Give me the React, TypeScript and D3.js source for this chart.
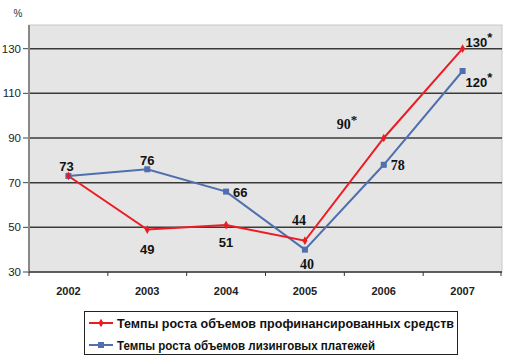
import React from 'react';
import * as d3 from 'd3';

const years = ['2002', '2003', '2004', '2005', '2006', '2007'];
const financed = [73, 49, 51, 44, 90, 130];
const leasing = [73, 76, 66, 40, 78, 120];
const yTicks = [30, 50, 70, 90, 110, 130];
const legendNames = [
  'Темпы роста объемов профинансированных средств',
  'Темпы роста объемов лизинговых платежей',
];
// label placement per point: [dx, dy, anchor, serif, star]
const financedLabels: [number, number, string, boolean, boolean][] = [
  [-2, -5, 'middle', false, false],
  [0, 24, 'middle', false, false],
  [0, 22, 'middle', false, false],
  [-6, -16, 'middle', true, false],
  [-47, -9, 'start', true, true],
  [3, -2, 'start', false, true],
];
const leasingLabels: [number, number, string, boolean, boolean][] = [
  [99, 99, 'none', false, false],
  [0, -4, 'middle', false, false],
  [7, 5, 'start', false, false],
  [2, 19, 'middle', true, false],
  [7, 5, 'start', true, false],
  [3, 16, 'start', false, true],
];

const RED = '#ec1c24';
const BLUE = '#4f6fae';

export default function App() {
  const W = 505, H = 360;
  const left = 29, right = 502, top = 25, bottom = 272;
  const x = d3.scaleBand().domain(years).range([left, right]);
  const y = d3.scaleLinear().domain([30, 140.6]).range([bottom, top]);
  const cx = (yr: string) => (x(yr) as number) + x.bandwidth() / 2;

  const line = d3.line<number>()
    .x((_, i) => cx(years[i]))
    .y(d => y(d));

  const label = (v: number, i: number, cfg: [number, number, string, boolean, boolean]) => {
    const [dx, dy, anchor, serif, star] = cfg;
    if (anchor === 'none') return null;
    return (
      <text key={i} x={cx(years[i]) + dx} y={y(v) + dy} textAnchor={anchor}
        fontFamily={serif ? 'Liberation Serif' : 'Liberation Sans'} fontWeight="bold"
        fontSize={serif ? 14 : 13} fill="#111">
        {v}{star ? <tspan dy={-5} fontSize={13}>*</tspan> : null}
      </text>
    );
  };

  return (
    <svg width={W} height={H} style={{ position: 'absolute', left: 0, top: 0, background: '#fff' }}
      fontFamily="Liberation Sans">
      <rect x={left} y={top} width={right - left} height={bottom - top} fill="#e5e5e5" stroke="#c8c8c8" />
      {yTicks.map(t => (
        <g key={t}>
          {t > 30 && <line x1={left} x2={right} y1={y(t)} y2={y(t)} stroke="#3a3a3a" strokeWidth={1.5} />}
          <line x1={left - 6} x2={left} y1={y(t)} y2={y(t)} stroke="#444" />
          <text x={21} y={y(t) + 4} textAnchor="end" fontSize={11.5} fill="#222">{t}</text>
        </g>
      ))}
      <text x={18} y={17} textAnchor="middle" fontSize={10} fill="#333">%</text>
      <line x1={left} x2={left} y1={top} y2={bottom} stroke="#888" strokeWidth={2} />
      <line x1={left} x2={right} y1={bottom} y2={bottom} stroke="#333" strokeWidth={1.5} />
      {[...years.map(yr => x(yr) as number), right - 1].map((p, i) => (
        <line key={i} x1={p} x2={p} y1={bottom} y2={bottom + 4} stroke="#333" />
      ))}
      {years.map(yr => (
        <text key={yr} x={cx(yr)} y={295} textAnchor="middle" fontSize={11} fontWeight="bold" fill="#222">{yr}</text>
      ))}
      <path d={line(leasing) || ''} fill="none" stroke={BLUE} strokeWidth={2} />
      <path d={line(financed) || ''} fill="none" stroke={RED} strokeWidth={2} />
      {leasing.map((v, i) => (
        <rect key={i} x={cx(years[i]) - 3} y={y(v) - 3} width={6} height={6} fill={BLUE} />
      ))}
      {financed.map((v, i) => (
        <path key={i} d={d3.symbol(d3.symbolDiamond, 22)() || ''}
          transform={`translate(${cx(years[i])},${y(v)})`} fill={RED} />
      ))}
      {financed.map((v, i) => label(v, i, financedLabels[i]))}
      {leasing.map((v, i) => label(v, i, leasingLabels[i]))}
      <rect x={84.5} y={311.5} width={373} height={43} fill="#fff" stroke="#222" />
      {legendNames.map((n, i) => {
        const ly = 323 + i * 22;
        const c = i === 0 ? RED : BLUE;
        return (
          <g key={n}>
            <line x1={89} x2={113} y1={ly} y2={ly} stroke={c} strokeWidth={2} />
            {i === 0
              ? <path d={d3.symbol(d3.symbolDiamond, 22)() || ''} transform={`translate(101,${ly})`} fill={c} />
              : <rect x={98} y={ly - 3} width={6} height={6} fill={c} />}
            <text x={117} y={ly + 5} fontSize={13} fontWeight="bold" fill="#111"
              textLength={i === 0 ? 337 : 258} lengthAdjust="spacingAndGlyphs">{n}</text>
          </g>
        );
      })}
    </svg>
  );
}
